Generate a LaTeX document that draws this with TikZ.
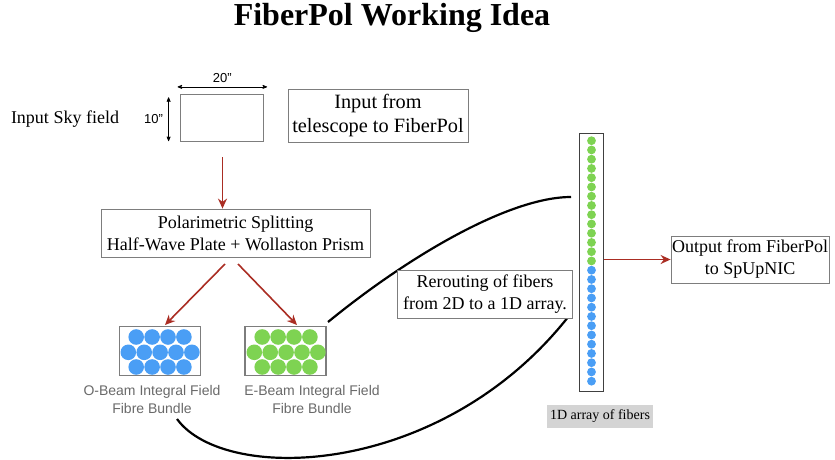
\documentclass[tikz,border=0pt]{standalone}
\usepackage{fontspec}
\setmainfont{Liberation Serif}
\setsansfont{Liberation Sans}
\usepackage{tikz}
\usetikzlibrary{arrows}
\usetikzlibrary{arrows.meta}
\tikzset{>=stealth'}
\definecolor{beamred}{RGB}{170, 45, 35}
\definecolor{oblue}{RGB}{74, 158, 245}
\definecolor{egreen}{RGB}{126, 211, 82}
\definecolor{boxgray}{RGB}{125, 125, 125}
\definecolor{labelgray}{RGB}{105, 105, 105}
\tikzset{
	textbox/.style={draw=boxgray, line width=0.8pt, fill=white, align=center, inner sep=1pt,
		font=\fontsize{18}{22}\selectfont},
	bundlebox/.style={draw=boxgray, line width=1.2pt, minimum width=81pt, minimum height=49pt, inner sep=0pt},
	beam/.style={-{Stealth[length=10pt,width=9pt]}, beamred, line width=1.6pt},
	fibre/.style={line width=2.2pt},
	dimarrow/.style={<->, line width=0.7pt},
	sanslabel/.style={font=\sffamily\fontsize{14}{18}\selectfont, text=labelgray, align=center},
}

\begin{document}
\begin{tikzpicture}[x=1pt, y=-1pt]
			\useasboundingbox (0,0) rectangle (835,460);

			\node[font=\bfseries\fontsize{32}{38}\selectfont] (title) at (392,18) {FiberPol Working Idea};

			% sky field and its size
			\node[font=\fontsize{18}{22}\selectfont] (skylabel) at (65,119) {Input Sky field};
			\node[draw=boxgray, line width=0.8pt, minimum width=83pt, minimum height=47pt] (sky) at (221.5,117.5) {};
			\draw[dimarrow] ([xshift=-2pt,yshift=6.7pt]sky.north west)
				-- node[above=1pt, font=\sffamily\fontsize{13}{15}\selectfont] {20”}
				([xshift=3.7pt,yshift=6.7pt]sky.north east);
			\draw[dimarrow] ([xshift=-11pt,yshift=-3.7pt]sky.north west)
				-- node[left=2pt, font=\sffamily\fontsize{13}{15}\selectfont] {10”}
				([xshift=-11pt,yshift=0.3pt]sky.south west);
			\node[textbox, minimum width=180pt, minimum height=53pt, font=\fontsize{20.3}{24}\selectfont] (inbox) at (378,115.5) {Input from\\telescope to FiberPol};

			\node[textbox, minimum width=269pt, minimum height=48pt] (split) at (235.5,233) {Polarimetric Splitting\\Half-Wave Plate + Wollaston Prism};

			\coordinate (skyout) at (222.5,157);
			\coordinate (splitl) at (225,264);
			\coordinate (splitr) at (238,264);
			\coordinate (oin) at (165,325);
			\coordinate (ein) at (297,325);
			\draw[beam] (skyout) -- (skyout |- split.north);
			\draw[beam] (splitl) -- (oin);
			\draw[beam] (splitr) -- (ein);

			% the two fibre bundles
			\node[bundlebox] (obox) at (160,351) {};
			\node[bundlebox] (ebox) at (285.5,351) {};
			\foreach \dx/\col in {0/oblue, 126/egreen} {
				\foreach \i in {0,...,3} {
					\fill[\col] (136.2+\dx+15.9*\i,337) circle (7.8);
					\fill[\col] (136.2+\dx+15.9*\i,367) circle (7.8);
				}
				\foreach \i in {0,...,4}
					\fill[\col] (128.3+\dx+15.9*\i,352.3) circle (7.8);
			}
			\node[sanslabel] (olabel) at (152,399) {O-Beam Integral Field\\Fibre Bundle};
			\node[sanslabel] (elabel) at (312,399) {E-Beam Integral Field\\Fibre Bundle};

			% rerouting to the 1D array
			\coordinate (eout) at (328,322);
			\coordinate (oout) at (177,419);
			\coordinate (coltop) at (571,197);
			\coordinate (colbot) at (572,312);
			\draw[fibre] (eout) .. controls (410,255) and (510,197) .. (coltop);
			\draw[fibre] (oout) .. controls (225,485) and (445,478) .. (colbot);
			\node[textbox, minimum width=175pt, minimum height=48pt] (reroute) at (485,294) {Rerouting of fibers\\from 2D to a 1D array.};

			\node[draw=black!75, line width=1pt, minimum width=24pt, minimum height=258pt, inner sep=0pt] (column) at (591,262.5) {};
			\foreach \k in {0,...,13}
				\fill[egreen] (591.5,140.7+9.25*\k) circle (4.4);
			\foreach \k in {14,...,26}
				\fill[oblue] (591.5,140.7+9.25*\k) circle (4.4);
			\node[fill=black!17, inner sep=3pt, minimum height=23pt, font=\fontsize{14}{16}\selectfont] (arraylabel) at (600,416) {1D array of fibers};

			\node[textbox, minimum width=158pt, minimum height=47pt] (outbox) at (750,259.5) {Output from FiberPol\\to SpUpNIC};
			\draw[beam] (column.east |- outbox.west) -- (outbox.west);
		\end{tikzpicture}
\end{document}
